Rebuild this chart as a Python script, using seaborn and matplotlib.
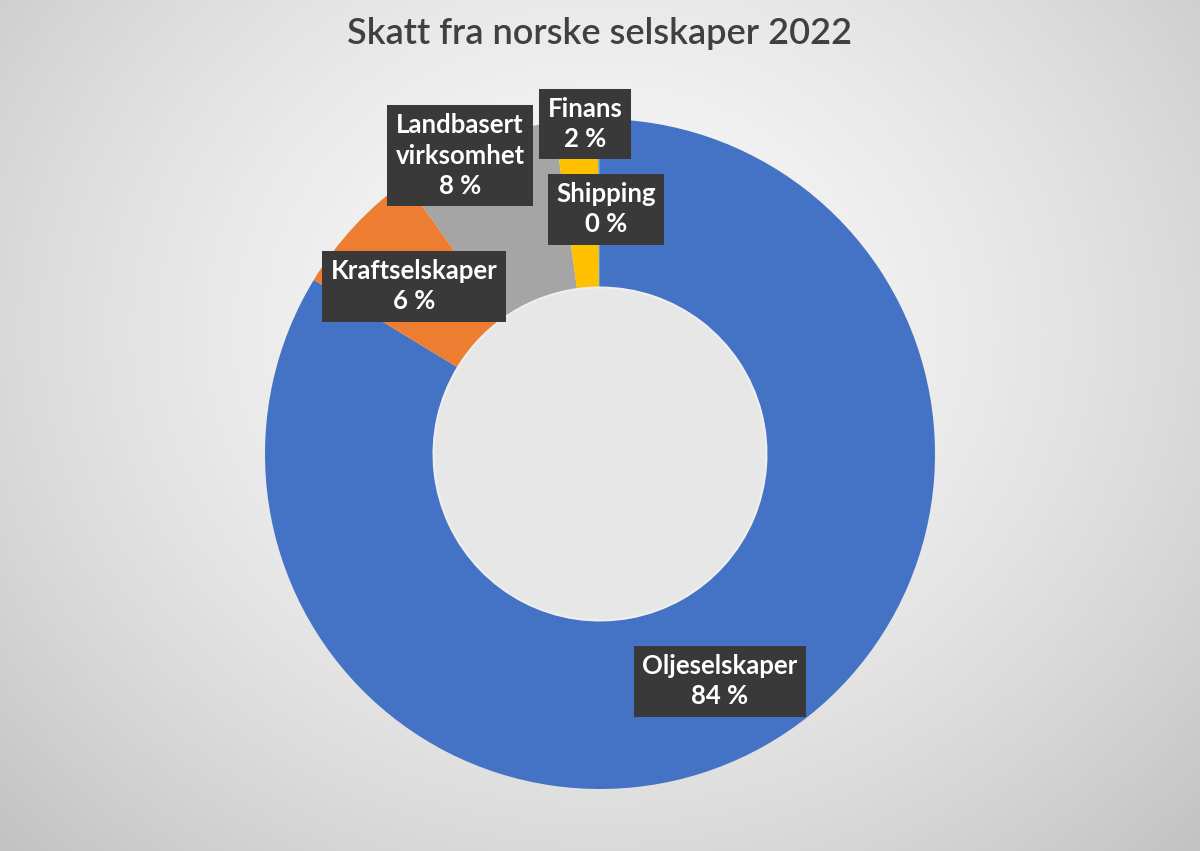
import matplotlib
matplotlib.use("Agg")
import matplotlib.pyplot as plt
import numpy as np
import seaborn as sns

# data
categories = ["Oljeselskaper", "Kraftselskaper", "Landbasert\nvirksomhet", "Finans", "Shipping"]
shares = [83.7, 6.4, 7.7, 2.1, 0.1]
colors = ["#4472C4", "#ED7D31", "#A5A5A5", "#FFC000", "#5B9BD5"]
title = "Skatt fra norske selskaper 2022"

# label positions in pie data coords (radius = 1)
label_pos = [(0.358, -0.678), (-0.555, 0.501), (-0.418, 0.890), (-0.045, 0.985), (0.018, 0.731)]

sns.set_theme(style="white")
plt.rcParams["font.family"] = ["Lato", "DejaVu Sans"]

W, H = 1200, 851
fig = plt.figure(figsize=(W / 100, H / 100), dpi=100)

# radial grey gradient background
bg = fig.add_axes([0, 0, 1, 1])
yy, xx = np.mgrid[0:H, 0:W]
d = np.sqrt(((xx - 600) / 700.0) ** 2 + ((yy - 330) / 620.0) ** 2)
shade = np.clip(0.975 - 0.16 * d ** 1.6, 0, 1)
bg.imshow(np.dstack([shade] * 3), extent=[0, 1, 0, 1], aspect="auto", origin="upper")
bg.axis("off")

# donut
cx, cy, r = 600, 454, 335
ax = fig.add_axes([(cx - r) / W, (H - cy - r) / H, 2 * r / W, 2 * r / H])
ax.pie(shares, colors=colors, startangle=90, counterclock=False, radius=1,
       wedgeprops=dict(width=0.5, edgecolor="none"))
ax.add_patch(plt.Circle((0, 0), 0.5, facecolor="#e7e7e7", edgecolor="#efefef", lw=3, zorder=0.5))
ax.set_xlim(-1, 1)
ax.set_ylim(-1, 1)
ax.set_aspect("equal")
ax.axis("off")

for name, val, (lx, ly) in zip(categories, shares, label_pos):
    ax.text(lx, ly, f"{name}\n{round(val):.0f} %", ha="center", va="center",
            color="white", fontsize=18.5, fontweight="bold", linespacing=1.32,
            bbox=dict(boxstyle="square,pad=0.32", facecolor="#393939", edgecolor="none"),
            zorder=5)

fig.text(0.5, 1 - 33 / H, title, ha="center", va="center", fontsize=26,
         color="#404040", fontweight="semibold")

fig.savefig("out.png", dpi=100)
